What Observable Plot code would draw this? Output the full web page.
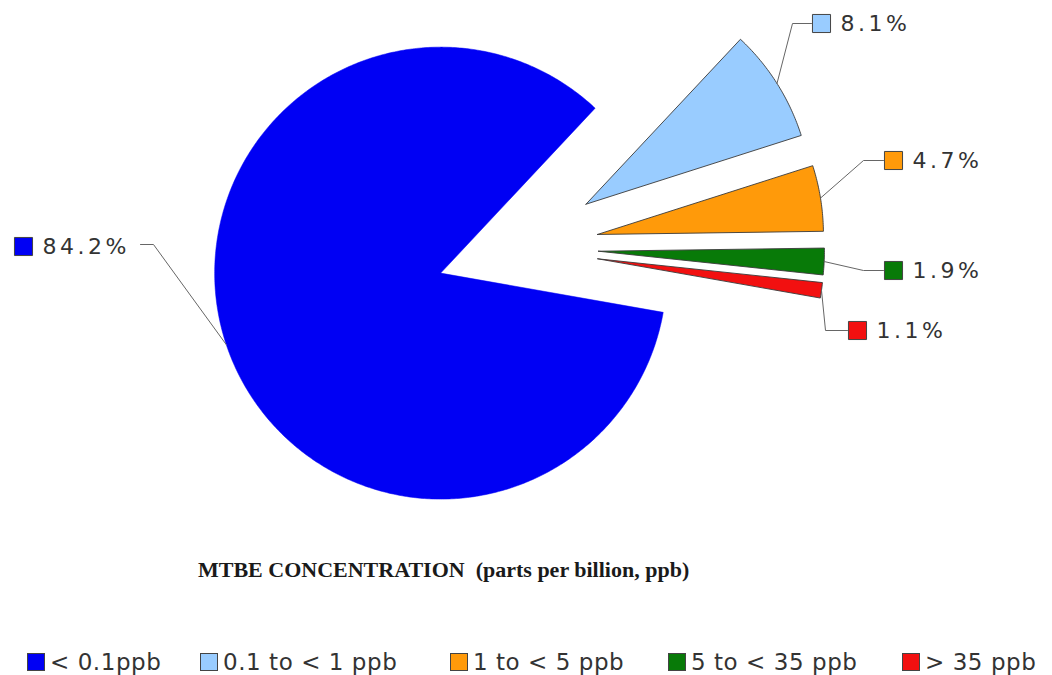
<!DOCTYPE html>
<html>
<head>
<meta charset="utf-8">
<script src="https://cdn.jsdelivr.net/npm/d3@7"></script>
<script src="https://cdn.jsdelivr.net/npm/@observablehq/plot@0.6"></script>
<style>
  html, body { margin: 0; padding: 0; background: #fff; }
  #wrap { position: relative; width: 1052px; height: 675px; overflow: hidden; }
  #chart svg text { letter-spacing: 3.5px; }
  #title {
    position: absolute; left: 198px; top: 557px;
    font-family: "Liberation Serif", "Times New Roman", serif;
    font-weight: bold; font-size: 22px; color: #1a1a1a; white-space: pre;
  }
  #legend {
    position: absolute; left: 0; top: 649px; width: 1052px; height: 26px;
    font-family: "DejaVu Sans", Verdana, sans-serif; font-size: 23px; color: #333;
    letter-spacing: 0.55px;
  }
  .item { position: absolute; top: 0; display: flex; align-items: center; white-space: pre; }
  .sw { width: 18px; height: 18px; border: 1px solid #444; margin-right: 5px; box-sizing: border-box; }
</style>
</head>
<body>
<div id="wrap">
  <div id="chart"></div>
  <div id="title"></div>
  <div id="legend"></div>
</div>
<script>
// MTBE concentration classes and share of samples (%)
const categories = ["< 0.1ppb", "0.1 to < 1 ppb", "1 to < 5 ppb", "5 to < 35 ppb", "> 35 ppb"];
const shares = [84.2, 8.1, 4.7, 1.9, 1.1];
const colors = ["#0000f4", "#99ccff", "#ff9a0a", "#087a08", "#f21010"];
const titleText = "MTBE CONCENTRATION  (parts per billion, ppb)";

// Pie layout (chart units = px, origin at the pie centre, y up)
const radius = 226;
const explode = 81;
const startDeg = 100;
// label placement per slice: leader elbow, leader end, swatch centre
const leaderElbow = [[-364, 3], [275, 224], [346, 87], [346, -23], [308, -83]];
const leaderEnd   = [[-377, 3], [294, 224], [366, 87], [366, -23], [330, -83]];
const labelAt     = [[-494, 1], [304, 224], [376, 87], [376, -23], [340, -83]];
// legend swatch left edges (px)
const legendLeft = [27, 200, 450, 668, 902];

const arcs = d3.pie().sort(null)
  .startAngle(startDeg * Math.PI / 180)
  .endAngle(startDeg * Math.PI / 180 + 2 * Math.PI)(shares);

const pt = (a, r) => [r * Math.sin(a), r * Math.cos(a)];

const slices = arcs.map((arc, i) => {
  const mid = (arc.startAngle + arc.endAngle) / 2;
  const [ox, oy] = pt(mid, explode);
  const n = Math.max(4, Math.ceil((arc.endAngle - arc.startAngle) / 0.01));
  const ring = d3.range(n + 1).map(k => {
    const [px, py] = pt(arc.startAngle + (arc.endAngle - arc.startAngle) * k / n, radius);
    return {x: ox + px, y: oy + py};
  });
  const poly = [{x: ox, y: oy}, ...ring, {x: ox, y: oy}];
  const [mx, my] = pt(mid, radius);
  const leader = [
    {x: ox + mx, y: oy + my},
    {x: leaderElbow[i][0], y: leaderElbow[i][1]},
    {x: leaderEnd[i][0], y: leaderEnd[i][1]}
  ];
  return {poly, leader, color: colors[i], value: shares[i], label: labelAt[i]};
});

const labels = slices.map(s => ({x: s.label[0], y: s.label[1], text: s.value.toFixed(1) + "%", color: s.color}));

const marks = [];
slices.forEach((s, i) => {
  marks.push(Plot.line(s.poly, {
    x: "x", y: "y", fill: s.color,
    stroke: i === 0 ? s.color : "#3a3a3a", strokeWidth: i === 0 ? 0.5 : 0.9
  }));
  marks.push(Plot.line(s.leader, {x: "x", y: "y", stroke: "#666", strokeWidth: 1}));
});
marks.push(Plot.dot(labels, {x: "x", y: "y", symbol: "square", r: 10.2, fill: "color", stroke: "#444", strokeWidth: 1}));
marks.push(Plot.text(labels, {
  x: "x", y: "y", text: "text", dx: 19, textAnchor: "start",
  fontSize: 22, fill: "#333", fontFamily: "DejaVu Sans, Verdana, sans-serif"
}));

const plot = Plot.plot({
  width: 1052, height: 545, margin: 0,
  x: {domain: [-517, 535], axis: null},
  y: {domain: [-298, 247], axis: null},
  color: {type: "identity"},
  marks
});
document.getElementById("chart").append(plot);

document.getElementById("title").textContent = titleText;
const legend = document.getElementById("legend");
categories.forEach((c, i) => {
  const item = document.createElement("div");
  item.className = "item";
  item.style.left = legendLeft[i] + "px";
  const sw = document.createElement("span");
  sw.className = "sw";
  sw.style.background = colors[i];
  const t = document.createElement("span");
  t.textContent = c;
  item.append(sw, t);
  legend.append(item);
});
</script>
</body>
</html>
